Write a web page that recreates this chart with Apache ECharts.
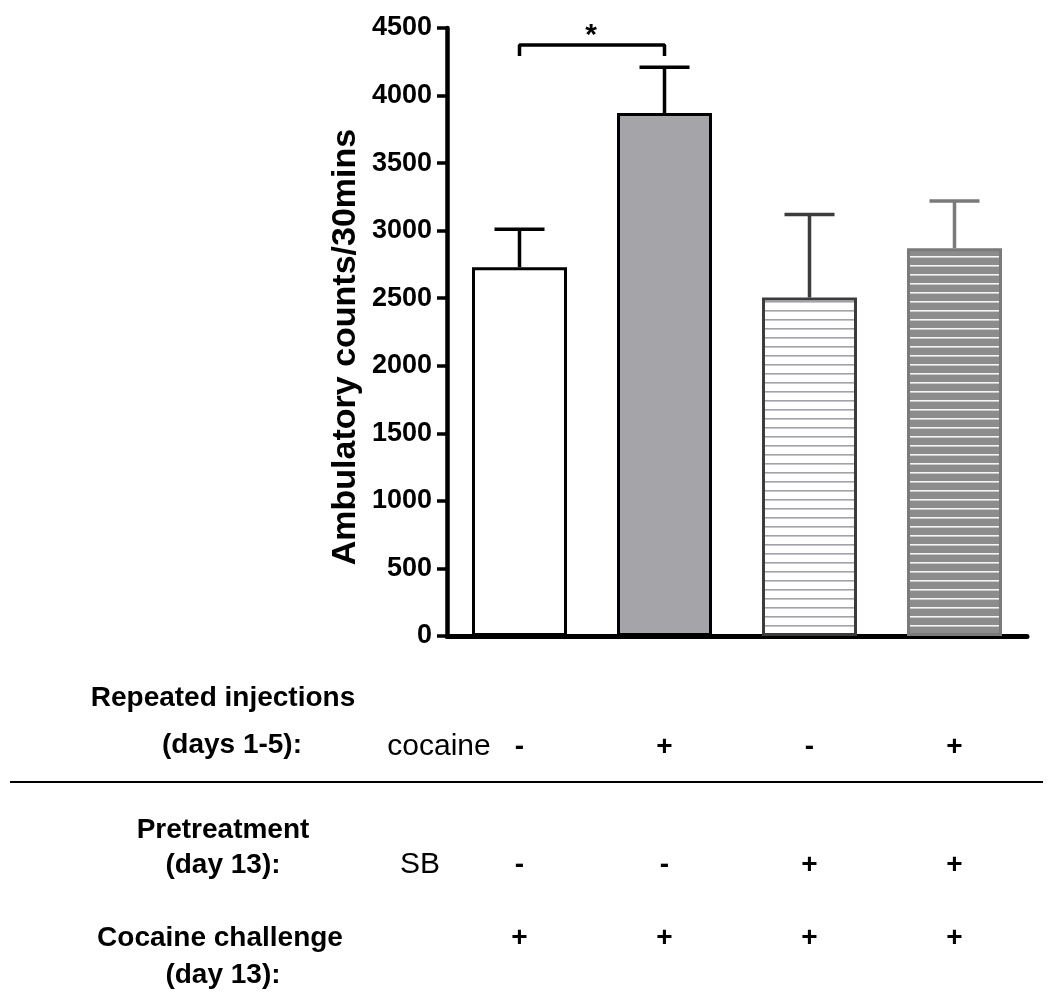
<!DOCTYPE html>
<html><head><meta charset="utf-8">
<script src="https://cdn.jsdelivr.net/npm/echarts@6/dist/echarts.min.js"></script>
<style>html,body{margin:0;padding:0;background:#fff}#c{width:1050px;height:997px}</style>
</head><body><div id="c"></div>
<script>
// ---- data ----
const groups = ['cocaine/saline', 'cocaine/cocaine', 'SB/saline', 'SB/cocaine'];
const means = [2730, 3870, 2505, 2870];
const sems = [280, 340, 615, 350];
const yMin = 0, yMax = 4500, yInterval = 500;
const yTitle = 'Ambulatory counts/30mins';
const sigPair = [0, 1];
const sigBracket = [4293, 4374];
const sigLabel = '*';
const repeatedRow = ['-', '+', '-', '+'];
const pretreatRow = ['-', '-', '+', '+'];
const challengeRow = ['+', '+', '+', '+'];

// ---- styles ----
function hatch(bg, line) {
  const c = document.createElement('canvas');
  c.width = 8; c.height = 9;
  const g = c.getContext('2d');
  g.fillStyle = bg; g.fillRect(0, 0, 8, 9);
  g.fillStyle = line; g.fillRect(0, 4, 8, 1.6);
  return { image: c, repeat: 'repeat' };
}
const fills = ['#ffffff', '#a4a4a9', hatch('#ffffff', '#a2a2aa'), hatch('#8c8c8c', '#f4f4f4')];
const borders = ['#000000', '#000000', '#3c3c3c', '#7a7a7a'];
const FONT = 'Liberation Sans, Arial, sans-serif';

const chart = echarts.init(document.getElementById('c'), null, { renderer: 'canvas' });
const option = {
  animation: false,
  backgroundColor: '#ffffff',
  grid: { left: 447, right: 23, top: 28, bottom: 361, containLabel: false },
  xAxis: {
    type: 'category', data: groups,
    axisLine: { show: true, lineStyle: { color: '#000', width: 5 } },
    axisTick: { show: false }, axisLabel: { show: false }, splitLine: { show: false }
  },
  yAxis: {
    type: 'value', min: yMin, max: yMax, interval: yInterval,
    axisLine: { show: true, lineStyle: { color: '#000', width: 4.5 } },
    axisTick: { show: true, inside: false, length: 10, lineStyle: { color: '#000', width: 3.5 } },
    axisLabel: { margin: 15, fontFamily: FONT, fontWeight: 'bold', fontSize: 27, color: '#000',
      formatter: function (v) { return String(v); } },
    splitLine: { show: false }
  },
  series: [
    {
      type: 'bar', barWidth: 95, z: 2,
      data: means.map((v, i) => ({
        value: v,
        itemStyle: { color: fills[i], borderColor: borders[i], borderWidth: 3 }
      }))
    },
    {
      type: 'custom', z: 3,
      data: means.map((v, i) => [i, v, sems[i]]),
      renderItem: function (params, api) {
        const i = params.dataIndex;
        const p0 = api.coord([api.value(0), api.value(1)]);
        const p1 = api.coord([api.value(0), api.value(1) + api.value(2)]);
        const hw = 25;
        const st = { stroke: borders[i], lineWidth: 3.5 };
        return {
          type: 'group', children: [
            { type: 'line', shape: { x1: p0[0], y1: p0[1], x2: p1[0], y2: p1[1] }, style: st },
            { type: 'line', shape: { x1: p1[0] - hw, y1: p1[1], x2: p1[0] + hw, y2: p1[1] }, style: st }
          ]
        };
      }
    },
    {
      type: 'line', symbol: 'none', z: 4,
      lineStyle: { color: '#000', width: 3.5 },
      data: [[sigPair[0], sigBracket[0]], [sigPair[0], sigBracket[1]], [sigPair[1], sigBracket[1]], [sigPair[1], sigBracket[0]]]
    }
  ]
};
chart.setOption(option);

// ---- annotations & condition table ----
const cx = groups.map((g, i) => chart.convertToPixel({ xAxisIndex: 0 }, i));
const starPt = chart.convertToPixel({ gridIndex: 0 }, [sigPair[0], sigBracket[1]]);
const starX = (cx[sigPair[0]] + cx[sigPair[1]]) / 2;
const els = [];
function txt(x, y, s, opts, extra) {
  els.push(Object.assign({
    type: 'text', x: x, y: y, silent: true,
    style: Object.assign({ text: s, fill: '#000', font: 'bold 28px ' + FONT, align: 'center', verticalAlign: 'middle' }, opts || {})
  }, extra || {}));
}
// y-axis title
txt(346, 347, yTitle, { font: 'bold 34px ' + FONT }, { rotation: Math.PI / 2 });
txt(starX - 1, starPt[1] - 9, sigLabel, { font: 'bold 30px ' + FONT });

const labelX = 223;
txt(labelX, 698, 'Repeated injections');
txt(labelX + 9, 745, '(days 1-5):');
txt(439, 747, 'cocaine', { font: '30px ' + FONT });
repeatedRow.forEach((s, i) => txt(cx[i], 747, s));
els.push({ type: 'line', silent: true, shape: { x1: 10, y1: 782, x2: 1043, y2: 782 }, style: { stroke: '#000', lineWidth: 2 } });
txt(labelX, 830, 'Pretreatment');
txt(labelX, 865, '(day 13):');
txt(420, 865, 'SB', { font: '30px ' + FONT });
pretreatRow.forEach((s, i) => txt(cx[i], 865, s));
txt(labelX - 3, 938, 'Cocaine challenge');
txt(labelX, 975, '(day 13):');
challengeRow.forEach((s, i) => txt(cx[i], 938, s));

chart.setOption({ graphic: { elements: els } });
</script></body></html>
